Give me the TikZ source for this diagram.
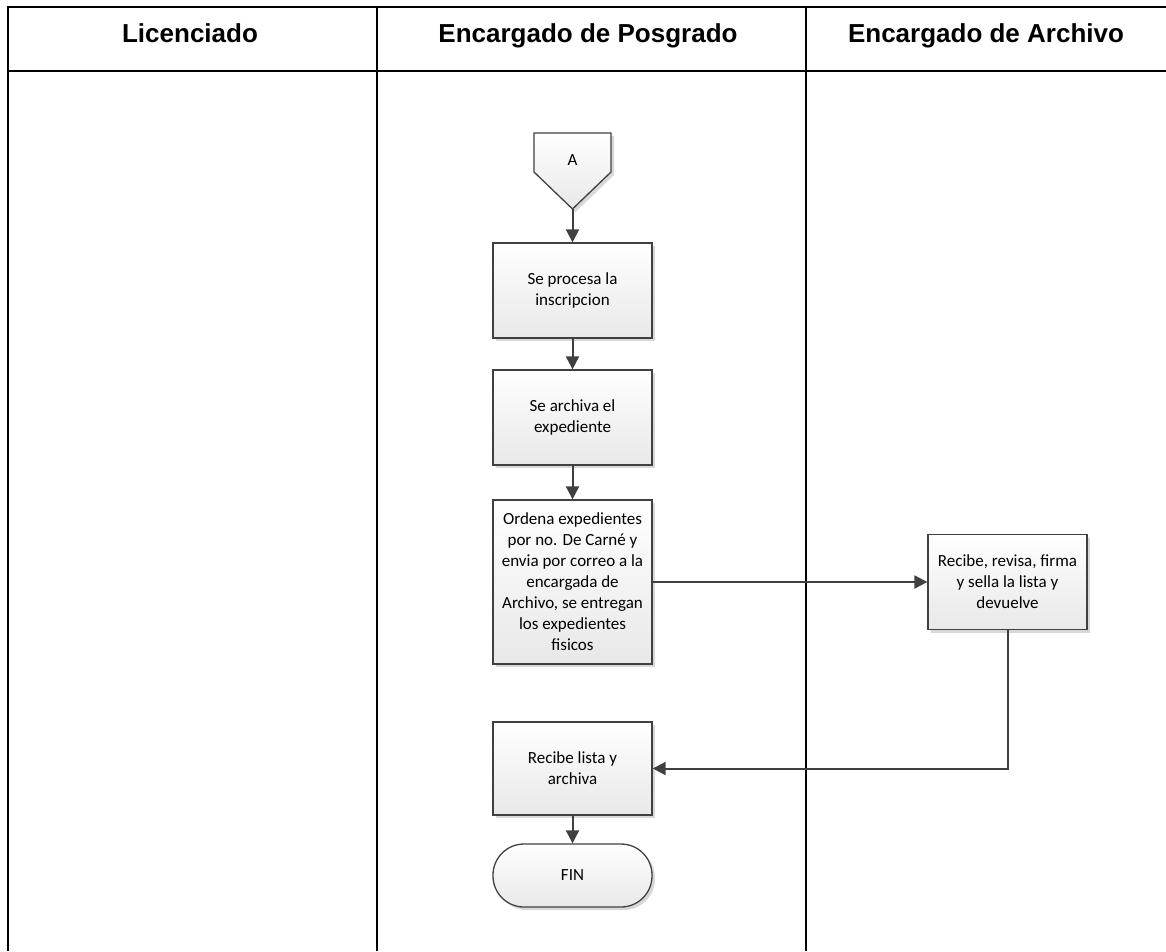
\documentclass[tikz,border=0pt]{standalone}
\usepackage{fontspec}
\setmainfont{Carlito}
\newfontfamily\headfont{Liberation Sans}
\usetikzlibrary{arrows.meta, shadows}
\definecolor{lineGray}{HTML}{404040}
\tikzstyle{lane} = [line width=2pt, black]
\tikzstyle{laneTitle} = [anchor=base, font=\headfont\bfseries\fontsize{26}{30}\selectfont]
\tikzstyle{boxes} = [rectangle, minimum width=159pt, minimum height=95pt, align=center, draw=lineGray, line width=1.3pt, top color=white, bottom color=black!9, drop shadow={shadow xshift=3pt, shadow yshift=-3pt, fill=black!30}, font=\fontsize{17}{21}\selectfont]
\tikzstyle{endbox} = [boxes, rounded corners=31pt, minimum height=63pt]
\tikzstyle{arrow} = [line width=2pt, lineGray, -{Triangle[length=13pt, width=13pt]}]

\begin{document}
\begin{tikzpicture}[x=1pt, y=-1pt]
    \useasboundingbox (0,0) rectangle (1166,951);

    %Lanes
    \draw [lane] (1166,7) -- (8,7) -- (8,951);
    \draw [lane] (8,71) -- (1166,71);
    \draw [lane] (377,7) -- (377,951);
    \draw [lane] (806,7) -- (806,951);
    \node (titleLic) [laneTitle] at (190,42) {Licenciado};
    \node (titlePos) [laneTitle] at (588,42) {Encargado de Posgrado};
    \node (titleArc) [laneTitle] at (986,42) {Encargado de Archivo};

    %Off-page connector
    \path [draw=lineGray, line width=1.3pt, top color=white, bottom color=black!9, drop shadow={shadow xshift=3pt, shadow yshift=-3pt, fill=black!30}]
        (534,133) -- (611,133) -- (611,172) -- (572.5,209) -- (534,172) -- cycle;
    \node (conA) [font=\fontsize{17}{21}\selectfont] at (572.5,160) {A};
    \coordinate (conAtip) at (572.5,209);

    %Main Nodes
    \node (proc) [boxes] at (572.5,290.5) {Se procesa la\\inscripcion};
    \node (arch) [boxes] at (572.5,417.5) {Se archiva el\\expediente};
    \node (orden) [boxes, minimum height=164pt] at (572.5,582) {Ordena expedientes\\por no. De Carné y\\envia por correo a la\\encargada de\\Archivo, se entregan\\los expedientes\\fisicos};
    \node (recibe) [boxes] at (1007.5,582) {Recibe, revisa, firma\\y sella la lista y\\devuelve};
    \node (lista) [boxes, minimum height=93pt] at (572.5,768.5) {Recibe lista y\\archiva};
    \node (fin) [endbox] at (572.5,875.5) {FIN};

    %Arrows
    \draw [arrow] (conAtip) -- (proc);
    \draw [arrow] (proc) -- (arch);
    \draw [arrow] (arch) -- (orden);
    \draw [arrow] (orden) -- (recibe);
    \draw [arrow] (recibe) |- (lista);
    \draw [arrow] (lista) -- (fin);

\end{tikzpicture}
\end{document}
